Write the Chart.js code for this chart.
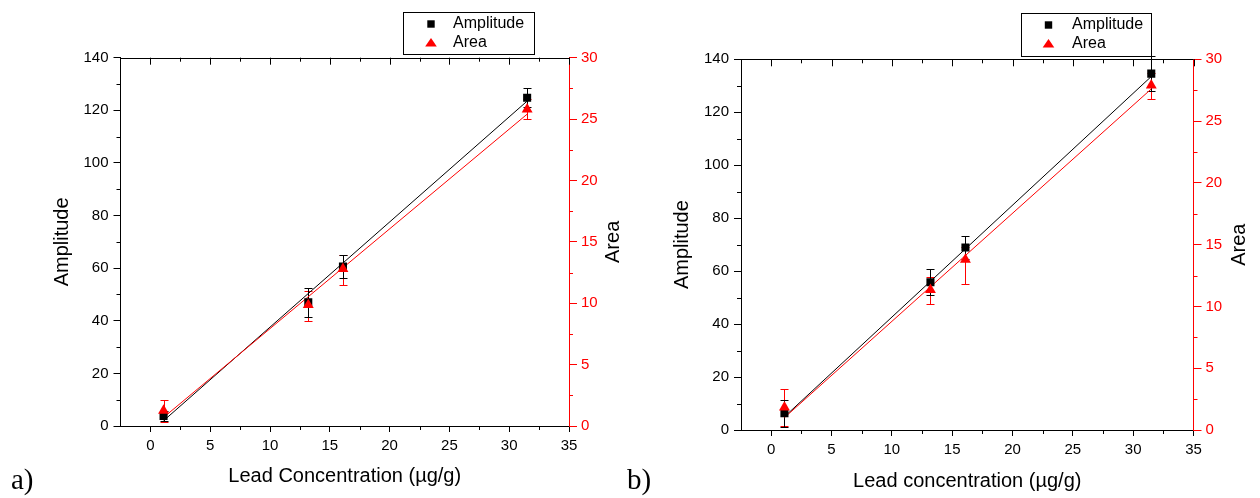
<!DOCTYPE html>
<html>
<head>
<meta charset="utf-8">
<script src="https://cdn.jsdelivr.net/npm/chart.js@4.4.0/dist/chart.umd.min.js"></script>
<style>
  html, body { margin: 0; padding: 0; background: #fff; }
  #wrap { position: relative; width: 1260px; height: 498px; overflow: hidden; }
  .box { position: absolute; top: 0; width: 630px; height: 498px; }
  .tag { position: absolute; top: 463px; font-family: 'Liberation Serif', 'Times New Roman', serif; font-size: 29px; color: #000; }
</style>
</head>
<body>
<div id="wrap">
  <div class="box" style="left:0"><canvas id="chartA" width="630" height="498"></canvas></div>
  <div class="box" style="left:630px"><canvas id="chartB" width="630" height="498"></canvas></div>
  <div class="tag" style="left:11px">a)</div>
  <div class="tag" style="left:627px">b)</div>
</div>
<script>
// shared axes
const conc = [1.1, 13.2, 16.1, 31.5];
const fitX = [1.1, 31.5];
const xTicks = [0, 5, 10, 15, 20, 25, 30, 35];
const ampTicks = [0, 20, 40, 60, 80, 100, 120, 140];
const areaTicks = [0, 5, 10, 15, 20, 25, 30];

// panel a
const ampA = [3.8, 47.0, 60.6, 124.8];
const ampErrA = [2.0, 5.5, 4.5, 3.7];
const areaA = [1.25, 9.86, 12.8, 25.8];
const areaErrLoA = [0.9, 1.3, 1.3, 0.8];
const areaErrHiA = [0.9, 1.1, 1.1, 0.8];
const ampFitA = [2.0, 123.5];
const areaFitA = [0.7, 25.4];

// panel b
const ampB = [6.3, 55.8, 68.9, 134.6];
const ampErrB = [5.2, 4.9, 4.5, 6.5];
const areaB = [1.83, 11.35, 13.8, 27.9];
const areaErrLoB = [1.5, 1.15, 2.0, 1.1];
const areaErrHiB = [1.5, 1.05, 1.0, 1.0];
const ampFitB = [5.0, 133.5];
const areaFitB = [1.0, 27.6];

const RED = '#ff0000';
Chart.defaults.font.family = "'Liberation Sans', Arial, sans-serif";
Chart.defaults.color = '#000';

function minors(ticks) {
  const out = [];
  for (let i = 0; i < ticks.length - 1; i++) out.push((ticks[i] + ticks[i + 1]) / 2);
  return out;
}

// error bars under the markers
const errorBars = {
  id: 'errorBars',
  beforeDatasetsDraw(chart) {
    const ctx = chart.ctx;
    chart.data.datasets.forEach((ds) => {
      if (!ds.errLo) return;
      const sy = chart.scales[ds.yAxisID];
      ctx.save();
      ctx.strokeStyle = ds.barColor;
      ctx.lineWidth = 1;
      ds.data.forEach((p, i) => {
        const px = Math.round(chart.scales.x.getPixelForValue(p.x)) + 0.5;
        const top = Math.round(sy.getPixelForValue(p.y + ds.errHi[i])) + 0.5;
        const bot = Math.round(sy.getPixelForValue(p.y - ds.errLo[i])) + 0.5;
        ctx.beginPath();
        ctx.moveTo(px, top); ctx.lineTo(px, bot);
        ctx.moveTo(px - 4, top); ctx.lineTo(px + 4, top);
        ctx.moveTo(px - 4, bot); ctx.lineTo(px + 4, bot);
        ctx.stroke();
      });
      ctx.restore();
    });
  }
};

// top border, minor ticks, right title, legend box
const frame = {
  id: 'frame',
  afterDraw(chart, args, o) {
    const ctx = chart.ctx;
    const { left, right, top, bottom } = chart.chartArea;
    const { x, y, y1 } = chart.scales;
    const al = (v) => Math.round(v) + 0.5;
    ctx.save();
    ctx.lineWidth = 1;
    ctx.strokeStyle = '#000';
    ctx.beginPath();
    ctx.moveTo(left, al(top)); ctx.lineTo(right, al(top));
    xTicks.forEach((v) => {
      const px = al(x.getPixelForValue(v));
      ctx.moveTo(px, top); ctx.lineTo(px, top + 7);
    });
    minors(xTicks).forEach((v) => {
      const px = al(x.getPixelForValue(v));
      ctx.moveTo(px, top); ctx.lineTo(px, top + 4);
      ctx.moveTo(px, bottom); ctx.lineTo(px, bottom + 4);
    });
    minors(ampTicks).forEach((v) => {
      const py = al(y.getPixelForValue(v));
      ctx.moveTo(left, py); ctx.lineTo(left - 4, py);
    });
    ctx.stroke();
    ctx.strokeStyle = RED;
    ctx.beginPath();
    minors(areaTicks).forEach((v) => {
      const py = al(y1.getPixelForValue(v));
      ctx.moveTo(right, py); ctx.lineTo(right + 4, py);
    });
    ctx.stroke();

    // right axis title, reads bottom to top
    ctx.fillStyle = '#000';
    ctx.font = "20px 'Liberation Sans', Arial, sans-serif";
    ctx.textAlign = 'center';
    ctx.textBaseline = 'middle';
    ctx.save();
    ctx.translate(o.areaTitleX, (top + bottom) / 2);
    ctx.rotate(-Math.PI / 2);
    ctx.fillText('Area', 0, 0);
    ctx.restore();

    // legend
    const L = o.legend;
    ctx.strokeStyle = '#000';
    ctx.strokeRect(al(L.x), al(L.y), L.w, L.h);
    ctx.fillStyle = '#000';
    ctx.fillRect(L.mx - 3.7, L.y + 12 - 3.7, 7.4, 7.4);
    ctx.fillStyle = RED;
    const ty = L.y + 31;
    ctx.beginPath();
    ctx.moveTo(L.mx, ty - 5);
    ctx.lineTo(L.mx + 5.8, ty + 3.5);
    ctx.lineTo(L.mx - 5.8, ty + 3.5);
    ctx.closePath();
    ctx.fill();
    ctx.fillStyle = '#000';
    ctx.font = "16px 'Liberation Sans', Arial, sans-serif";
    ctx.textAlign = 'left';
    ctx.fillText('Amplitude', L.tx, L.y + 12);
    ctx.fillText('Area', L.tx, L.y + 31);
    ctx.restore();
  }
};

function makeChart(id, d) {
  const pts = (xs, ys) => xs.map((v, i) => ({ x: v, y: ys[i] }));
  return new Chart(document.getElementById(id), {
    type: 'scatter',
    data: {
      datasets: [
        { label: 'Area', data: pts(conc, d.area), yAxisID: 'y1', order: 0,
          pointStyle: 'triangle', pointRadius: 6.3, backgroundColor: RED, borderColor: RED, borderWidth: 0,
          errLo: d.areaLo, errHi: d.areaHi, barColor: RED },
        { label: 'Amplitude', data: pts(conc, d.amp), yAxisID: 'y', order: 1,
          pointStyle: 'rect', pointRadius: 5.7, backgroundColor: '#000', borderColor: '#000', borderWidth: 0,
          errLo: d.ampErr, errHi: d.ampErr, barColor: '#000' },
        { label: 'Area fit', data: pts(fitX, d.areaFit), yAxisID: 'y1', order: 2,
          showLine: true, pointRadius: 0, borderColor: RED, borderWidth: 1 },
        { label: 'Amplitude fit', data: pts(fitX, d.ampFit), yAxisID: 'y', order: 3,
          showLine: true, pointRadius: 0, borderColor: '#000', borderWidth: 1 }
      ]
    },
    options: {
      responsive: false,
      animation: false,
      events: [],
      layout: { padding: d.pad },
      plugins: {
        legend: { display: false },
        tooltip: { enabled: false },
        frame: { areaTitleX: d.areaTitleX, legend: d.legend }
      },
      scales: {
        x: {
          type: 'linear', position: 'bottom', min: -2.5, max: 35,
          afterBuildTicks: (s) => { s.ticks = xTicks.map((v) => ({ value: v })); },
          afterFit: (s) => { s.height = d.xH; },
          grid: { drawOnChartArea: false, drawTicks: true, tickLength: 6, tickColor: '#000' },
          border: { color: '#000', width: 1 },
          ticks: { color: '#000', font: { size: 15 }, padding: 5, maxRotation: 0, autoSkip: false },
          title: { display: true, text: d.xTitle, color: '#000', font: { size: 20 }, padding: 0 }
        },
        y: {
          type: 'linear', position: 'left', min: 0, max: 140,
          afterBuildTicks: (s) => { s.ticks = ampTicks.map((v) => ({ value: v })); },
          afterFit: (s) => { s.width = d.yW; },
          grid: { drawOnChartArea: false, drawTicks: true, tickLength: 7, tickColor: '#000' },
          border: { color: '#000', width: 1 },
          ticks: { color: '#000', font: { size: 15 }, padding: 5 },
          title: { display: true, text: 'Amplitude', color: '#000', font: { size: 20 }, padding: 0 }
        },
        y1: {
          type: 'linear', position: 'right', min: 0, max: 30,
          afterBuildTicks: (s) => { s.ticks = areaTicks.map((v) => ({ value: v })); },
          afterFit: (s) => { s.width = d.y1W; },
          grid: { drawOnChartArea: false, drawTicks: true, tickLength: 8, tickColor: RED },
          border: { color: RED, width: 1 },
          ticks: { color: RED, font: { size: 15 }, padding: 4 }
        }
      }
    },
    plugins: [errorBars, frame]
  });
}

makeChart('chartA', {
  amp: ampA, ampErr: ampErrA, area: areaA, areaLo: areaErrLoA, areaHi: areaErrHiA,
  ampFit: ampFitA, areaFit: areaFitA,
  xTitle: 'Lead Concentration (µg/g)',
  pad: { left: 50, right: 4.4, top: 57.7, bottom: 9.3 },
  yW: 70.5, y1W: 56.6, xH: 62.7, areaTitleX: 613.6,
  legend: { x: 403, y: 12, w: 131, h: 42, mx: 431, tx: 453 }
});

makeChart('chartB', {
  amp: ampB, ampErr: ampErrB, area: areaB, areaLo: areaErrLoB, areaHi: areaErrHiB,
  ampFit: ampFitB, areaFit: areaFitB,
  xTitle: 'Lead concentration (µg/g)',
  pad: { left: 40.2, right: 10.5, top: 59.3, bottom: 4.3 },
  yW: 70.8, y1W: 56, xH: 63.7, areaTitleX: 609.6,
  legend: { x: 391, y: 13, w: 130, h: 43, mx: 418.5, tx: 442 }
});
</script>
</body>
</html>
